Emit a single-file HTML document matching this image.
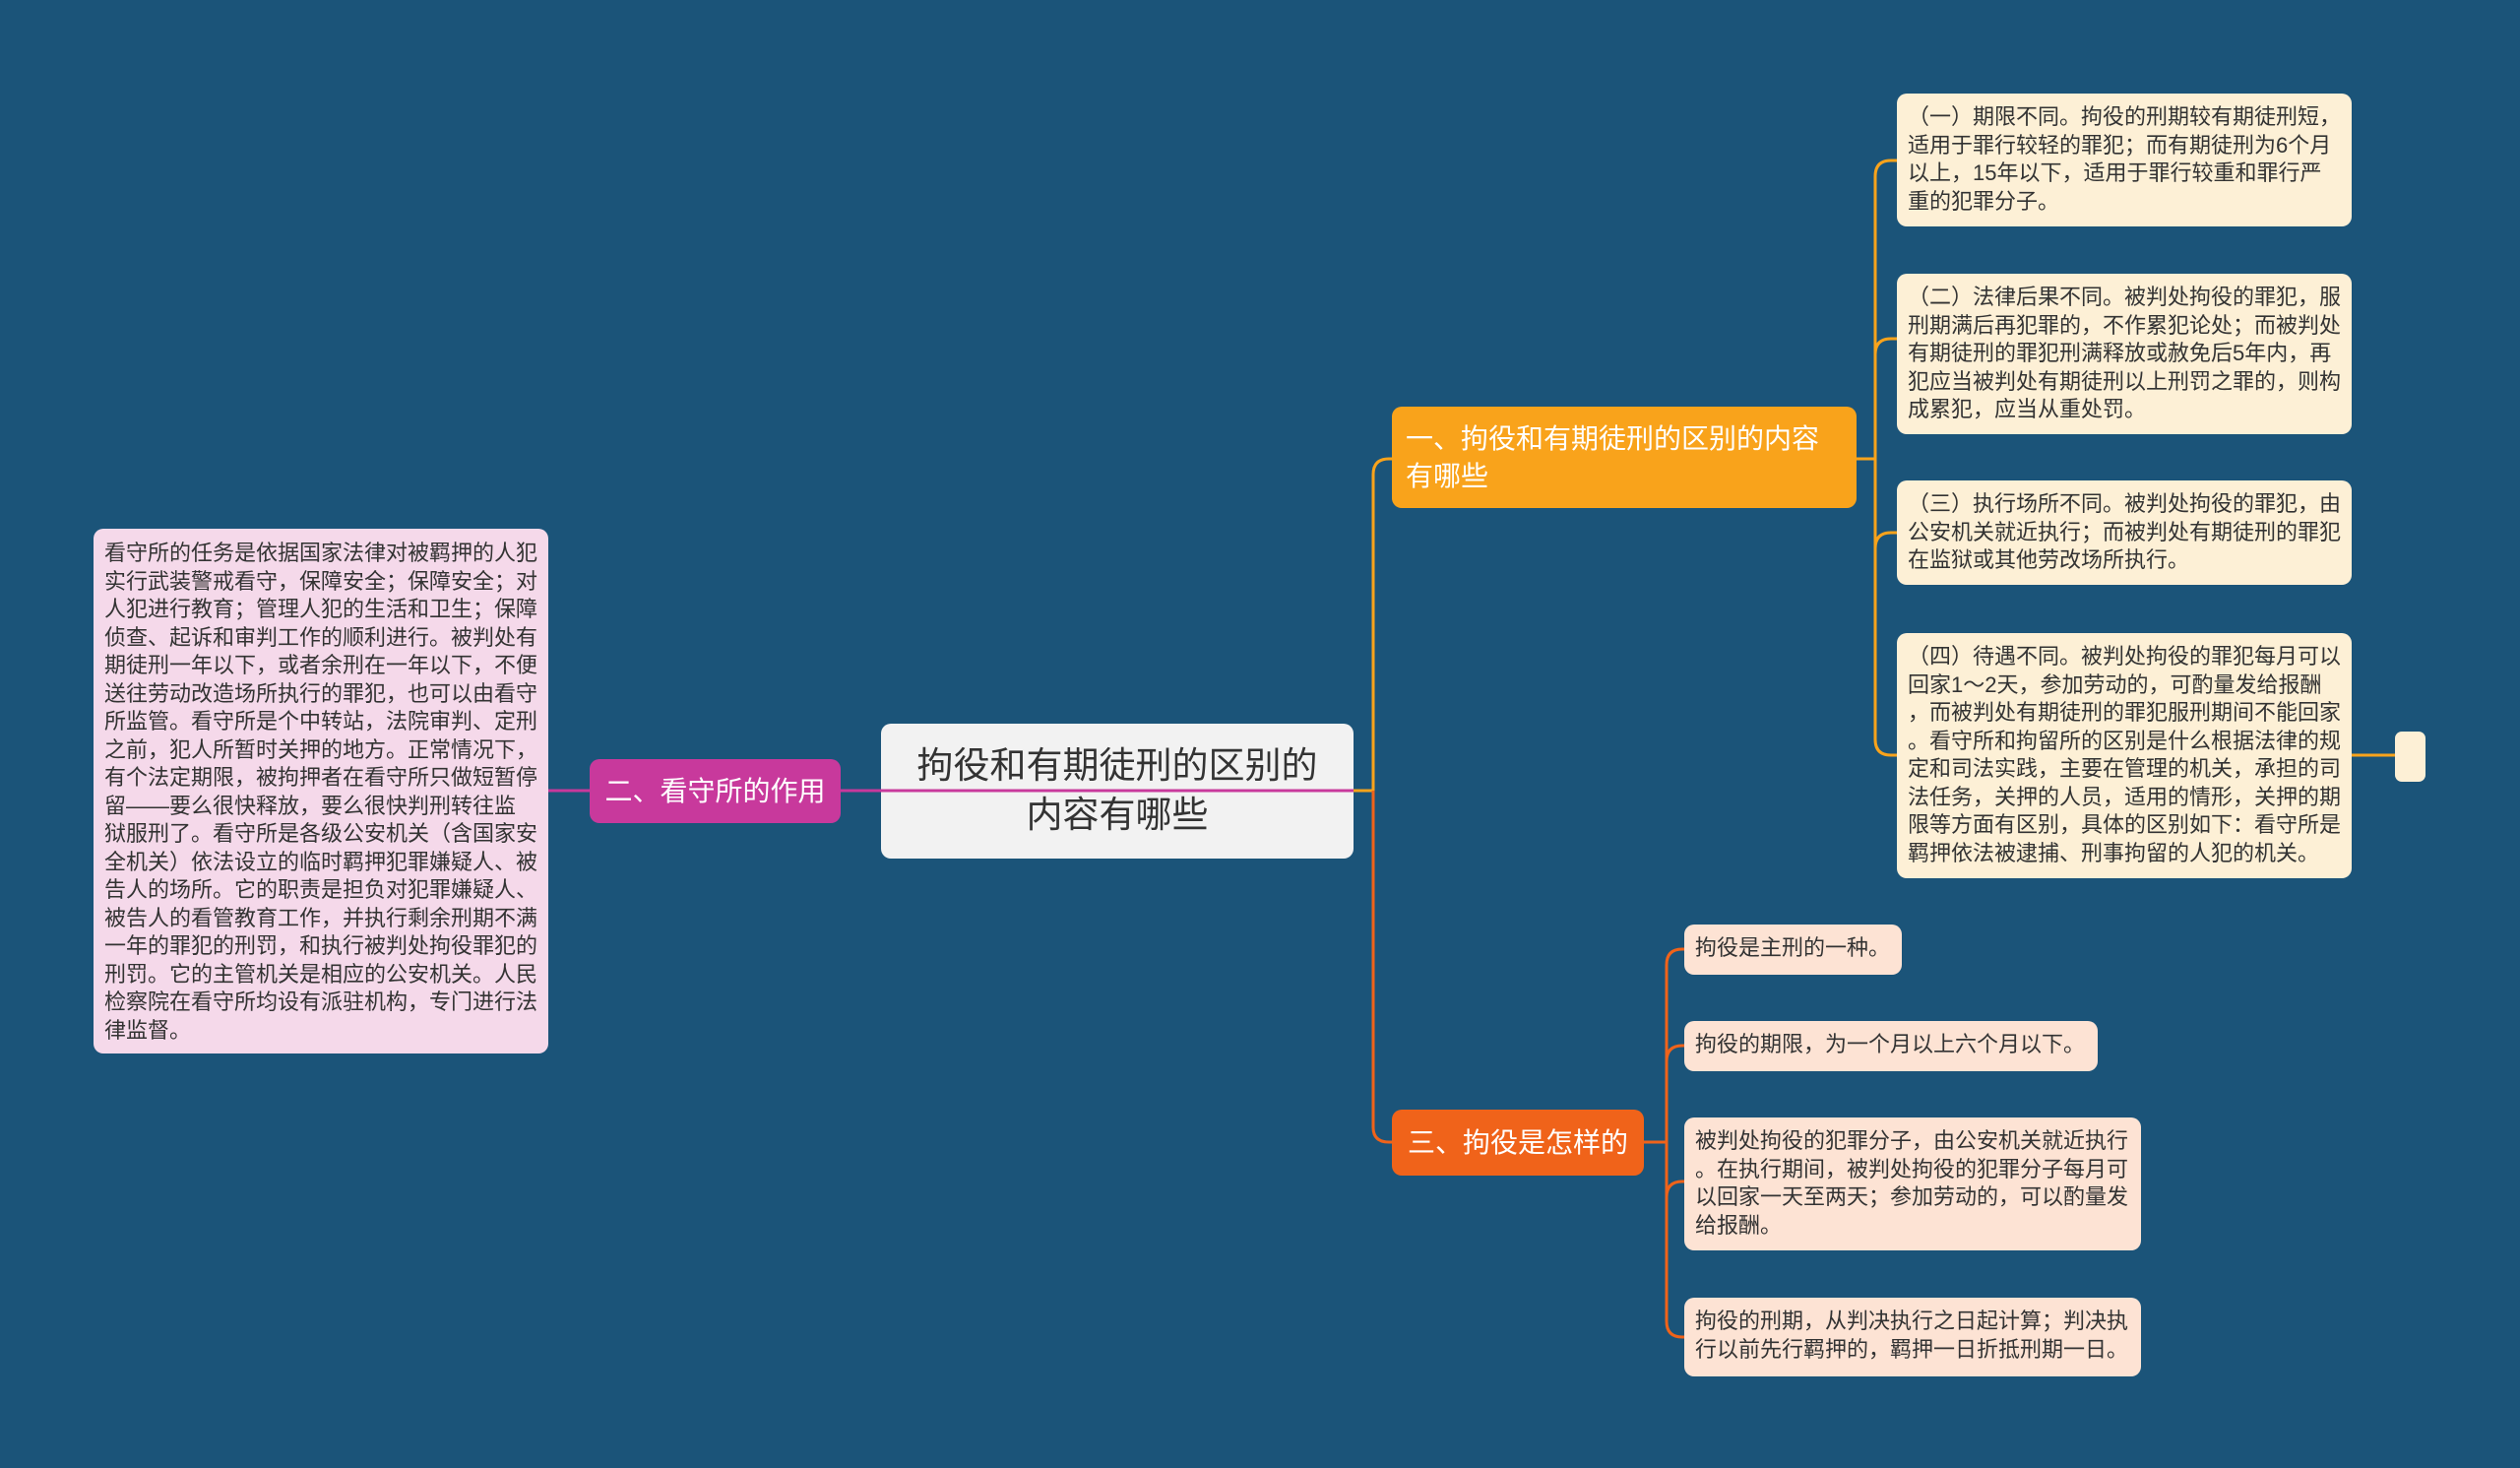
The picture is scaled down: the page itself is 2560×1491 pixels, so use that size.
<!DOCTYPE html>
<html><head><meta charset="utf-8"><style>
body{margin:0;width:2560px;height:1491px;background:#1b5479;position:relative;overflow:hidden;font-family:"Liberation Sans","Noto Sans CJK SC",sans-serif;}
.b{position:absolute;box-sizing:border-box;border-radius:10px;}
.leaf{font-size:22px;line-height:28.5px;color:#333;padding:10px 11px;white-space:nowrap;}
.r{background:#fdf0d6;}
.p{background:#fde3d4;}
</style></head><body>
<div class="b" style="left:895px;top:735px;width:480px;height:137px;background:#f2f2f2;color:#333;font-size:37px;line-height:50px;text-align:center;padding-top:18px;">拘役和有期徒刑的区别的<br>内容有哪些</div>
<svg width="2560" height="1491" style="position:absolute;left:0;top:0" fill="none">
<path d="M557 803 H1375" stroke="#c8399c" stroke-width="3"/>
<path d="M1375 803 H1395 M1395 803 V482 Q1395 466 1411 466 H1414" stroke="#f9a31b" stroke-width="3"/>
<path d="M1395 803 V1145 Q1395 1160 1411 1160 H1414" stroke="#f0631a" stroke-width="3"/>
<path d="M1886 466 H1905 M1905 179 Q1905 163 1921 163 H1927 M1905 179 V751 Q1905 767 1921 767 H1927 M1905 360 Q1905 344 1921 344 H1927 M1905 557 Q1905 541 1921 541 H1927 M2389 767 H2433" stroke="#f9a31b" stroke-width="3"/>
<path d="M1670 1160 H1693 M1693 980 Q1693 964 1709 964 H1711 M1693 980 V1342 Q1693 1358 1709 1358 H1711 M1693 1078 Q1693 1062 1709 1062 H1711 M1693 1216 Q1693 1200 1709 1200 H1711" stroke="#f0631a" stroke-width="3"/>
</svg>
<div class="b" style="left:1414px;top:413px;width:472px;height:103px;background:#f9a31b;color:#fff;font-size:28px;line-height:38px;padding:14px 14px;">一、拘役和有期徒刑的区别的内容<br>有哪些</div>
<div class="b" style="left:599px;top:771px;width:255px;height:65px;background:#c8399c;color:#fff;font-size:28px;line-height:65px;text-align:center;">二、看守所的作用</div>
<div class="b" style="left:1414px;top:1127px;width:256px;height:67px;background:#f0631a;color:#fff;font-size:28px;line-height:67px;text-align:center;">三、拘役是怎样的</div>

<div class="b leaf r" style="left:1927px;top:95px;width:462px;height:135px;">（一）期限不同。拘役的刑期较有期徒刑短，<br>适用于罪行较轻的罪犯；而有期徒刑为6个月<br>以上，15年以下，适用于罪行较重和罪行严<br>重的犯罪分子。</div>
<div class="b leaf r" style="left:1927px;top:278px;width:462px;height:163px;">（二）法律后果不同。被判处拘役的罪犯，服<br>刑期满后再犯罪的，不作累犯论处；而被判处<br>有期徒刑的罪犯刑满释放或赦免后5年内，再<br>犯应当被判处有期徒刑以上刑罚之罪的，则构<br>成累犯，应当从重处罚。</div>
<div class="b leaf r" style="left:1927px;top:488px;width:462px;height:106px;">（三）执行场所不同。被判处拘役的罪犯，由<br>公安机关就近执行；而被判处有期徒刑的罪犯<br>在监狱或其他劳改场所执行。</div>
<div class="b leaf r" style="left:1927px;top:643px;width:462px;height:249px;">（四）待遇不同。被判处拘役的罪犯每月可以<br>回家1～2天，参加劳动的，可酌量发给报酬<br>，而被判处有期徒刑的罪犯服刑期间不能回家<br>。看守所和拘留所的区别是什么根据法律的规<br>定和司法实践，主要在管理的机关，承担的司<br>法任务，关押的人员，适用的情形，关押的期<br>限等方面有区别，具体的区别如下：看守所是<br>羁押依法被逮捕、刑事拘留的人犯的机关。</div>
<div class="b r" style="left:2433px;top:743px;width:31px;height:51px;border-radius:7px;"></div>

<div class="b leaf" style="left:95px;top:537px;width:462px;height:533px;background:#f5d9ea;padding-top:11px;">看守所的任务是依据国家法律对被羁押的人犯<br>实行武装警戒看守，保障安全；保障安全；对<br>人犯进行教育；管理人犯的生活和卫生；保障<br>侦查、起诉和审判工作的顺利进行。被判处有<br>期徒刑一年以下，或者余刑在一年以下，不便<br>送往劳动改造场所执行的罪犯，也可以由看守<br>所监管。看守所是个中转站，法院审判、定刑<br>之前，犯人所暂时关押的地方。正常情况下，<br>有个法定期限，被拘押者在看守所只做短暂停<br>留——要么很快释放，要么很快判刑转往监<br>狱服刑了。看守所是各级公安机关（含国家安<br>全机关）依法设立的临时羁押犯罪嫌疑人、被<br>告人的场所。它的职责是担负对犯罪嫌疑人、<br>被告人的看管教育工作，并执行剩余刑期不满<br>一年的罪犯的刑罚，和执行被判处拘役罪犯的<br>刑罚。它的主管机关是相应的公安机关。人民<br>检察院在看守所均设有派驻机构，专门进行法<br>律监督。</div>

<div class="b leaf p" style="left:1711px;top:939px;width:221px;height:51px;">拘役是主刑的一种。</div>
<div class="b leaf p" style="left:1711px;top:1037px;width:420px;height:51px;">拘役的期限，为一个月以上六个月以下。</div>
<div class="b leaf p" style="left:1711px;top:1135px;width:464px;height:135px;">被判处拘役的犯罪分子，由公安机关就近执行<br>。在执行期间，被判处拘役的犯罪分子每月可<br>以回家一天至两天；参加劳动的，可以酌量发<br>给报酬。</div>
<div class="b leaf p" style="left:1711px;top:1318px;width:464px;height:80px;">拘役的刑期，从判决执行之日起计算；判决执<br>行以前先行羁押的，羁押一日折抵刑期一日。</div>
</body></html>
